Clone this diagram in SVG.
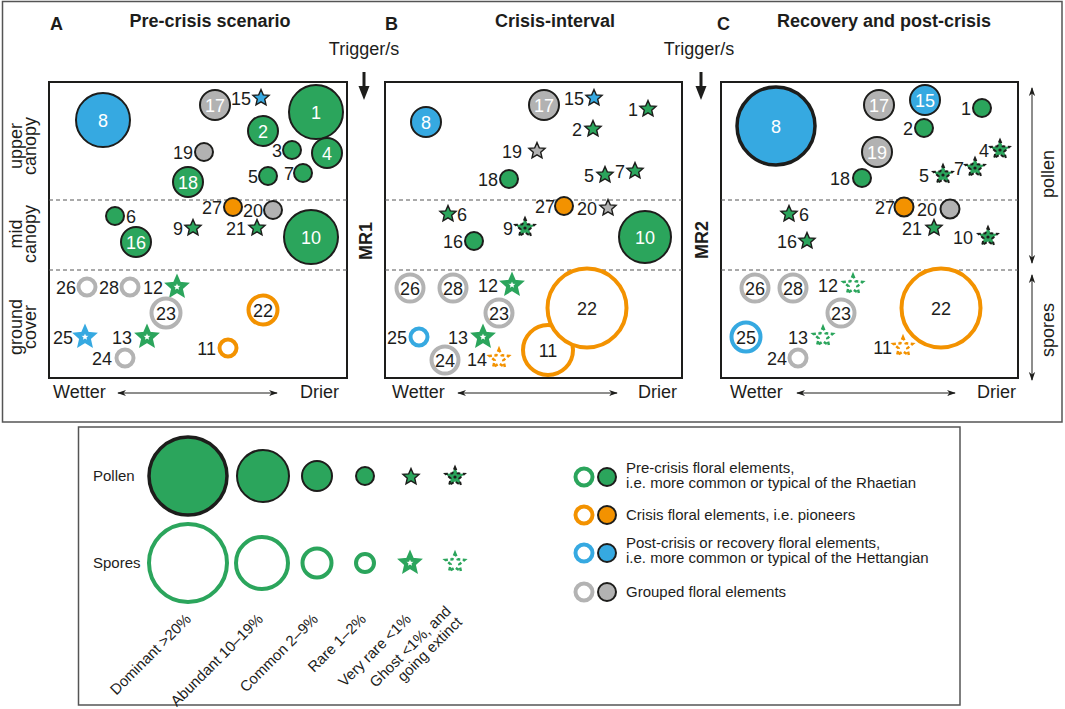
<svg xmlns="http://www.w3.org/2000/svg" xmlns:xlink="http://www.w3.org/1999/xlink" width="1065" height="709" viewBox="0 0 1065 709">
<style>
text{font-family:"Liberation Sans",Arial,sans-serif;font-size:18px;fill:#1d1d1b}
.bd{font-weight:bold}
.c{text-anchor:middle}
.e{text-anchor:end}
.w{fill:#fff}
.lg{font-size:15px}
.frame{fill:none;stroke:#555;stroke-width:1.5}
.box{fill:none;stroke:#1d1d1b;stroke-width:2}
.dash{stroke:#555;stroke-width:1;stroke-dasharray:4 3}
.f{stroke:#1d1d1b;stroke-width:2}
.G{fill:#2ba55c}.B{fill:#36a9e1}.O{fill:#f39200}.Y{fill:#b2b2b2}
.r{fill:#fff;stroke-width:4}
.rG{stroke:#2ba55c}.rB{stroke:#36a9e1}.rO{stroke:#f39200}.rY{stroke:#b3b3b3}
.ax{stroke:#1d1d1b;stroke-width:1;fill:none;marker-start:url(#ah);marker-end:url(#ah)}
</style>
<defs>
<marker id="ah" viewBox="0 0 10 10" refX="9" refY="5" markerWidth="9" markerHeight="9" markerUnits="userSpaceOnUse" orient="auto-start-reverse"><path d="M0,1.5 L10,5 L0,8.5 L3,5 z" fill="#1d1d1b"/></marker>
<polygon id="ps" points="0,-8.5 2.29,-3.16 8.08,-2.63 3.71,1.21 5,6.88 0,3.9 -5,6.88 -3.71,1.21 -8.08,-2.63 -2.29,-3.16" fill="currentColor" stroke="#1d1d1b" stroke-width="1.4" stroke-linejoin="miter"/>
<g id="pg">
<polygon points="0,-10 2.65,-3.64 9.51,-3.09 4.28,1.39 5.88,8.09 0,4.5 -5.88,8.09 -4.28,1.39 -9.51,-3.09 -2.65,-3.64" fill="currentColor" stroke="#1d1d1b" stroke-width="2" stroke-dasharray="3.5 2.5"/>
<circle r="1.6" fill="#1d1d1b"/>
</g>
<polygon id="ss" points="0,-8.5 2.29,-3.16 8.08,-2.63 3.71,1.21 5,6.88 0,3.9 -5,6.88 -3.71,1.21 -8.08,-2.63 -2.29,-3.16" fill="#fff" stroke="currentColor" stroke-width="4" stroke-linejoin="miter"/>
<polygon id="sg" points="0,-10 2.65,-3.64 9.51,-3.09 4.28,1.39 5.88,8.09 0,4.5 -5.88,8.09 -4.28,1.39 -9.51,-3.09 -2.65,-3.64" fill="none" stroke="currentColor" stroke-width="2.5" stroke-dasharray="3.5 2.5"/>
</defs>
<rect width="1065" height="709" fill="#fff"/>

<g id="frames">
<rect class="frame" x="2.5" y="1.5" width="1059.5" height="420.5"/>
<rect class="frame" x="78.5" y="427" width="881.5" height="278"/>
<rect class="box" x="49" y="82" width="298" height="296"/>
<rect class="box" x="385" y="82" width="297" height="296"/>
<rect class="box" x="721" y="82" width="297" height="296"/>
<line class="dash" x1="49" y1="200" x2="347" y2="200"/><line class="dash" x1="49" y1="270" x2="347" y2="270"/>
<line class="dash" x1="385" y1="200" x2="682" y2="200"/><line class="dash" x1="385" y1="270" x2="682" y2="270"/>
<line class="dash" x1="721" y1="200" x2="1018" y2="200"/><line class="dash" x1="721" y1="270" x2="1018" y2="270"/>
</g>

<g id="titles">
<text class="bd" x="50" y="30">A</text>
<text class="bd c" x="210" y="27">Pre-crisis scenario</text>
<text class="bd" x="385" y="30">B</text>
<text class="bd c" x="555" y="27">Crisis-interval</text>
<text class="bd" x="717" y="30">C</text>
<text class="bd c" x="884" y="27">Recovery and post-crisis</text>
<text class="c" x="364" y="55">Trigger/s</text>
<text class="c" x="699" y="55">Trigger/s</text>
<text class="bd c" transform="translate(372,241) rotate(-90)">MR1</text>
<text class="bd c" transform="translate(708,240) rotate(-90)">MR2</text>
<g transform="translate(22,146) rotate(-90)"><text class="c" x="0" y="0">upper</text><text class="c" x="0" y="14">canopy</text></g>
<g transform="translate(22,234) rotate(-90)"><text class="c" x="0" y="0">mid</text><text class="c" x="0" y="14">canopy</text></g>
<g transform="translate(22,327) rotate(-90)"><text class="c" x="0" y="0">ground</text><text class="c" x="0" y="14">cover</text></g>
<text class="c" transform="translate(1054,174) rotate(-90)">pollen</text>
<text class="c" transform="translate(1054,330) rotate(-90)">spores</text>
<text x="53" y="398">Wetter</text><text x="300" y="398">Drier</text>
<text x="392" y="398">Wetter</text><text x="638" y="398">Drier</text>
<text x="730" y="398">Wetter</text><text x="977" y="398">Drier</text>
</g>

<g id="connectors">
<line x1="364" y1="72" x2="364" y2="88" stroke="#1d1d1b" stroke-width="3"/><polygon points="358.5,86 369.5,86 364,100" fill="#1d1d1b"/>
<line x1="701" y1="72" x2="701" y2="88" stroke="#1d1d1b" stroke-width="3"/><polygon points="695.5,86 706.5,86 701,100" fill="#1d1d1b"/>
<line class="ax" x1="118" y1="393" x2="277" y2="393"/>
<line class="ax" x1="458" y1="393" x2="617" y2="393"/>
<line class="ax" x1="797" y1="393" x2="955" y2="393"/>
<line class="ax" x1="1032" y1="88" x2="1032" y2="263"/>
<line class="ax" x1="1032" y1="275" x2="1032" y2="380"/>
</g>

<g id="panelA">
<g id="a8"><circle class="f B" cx="103" cy="120" r="27"/><text class="c w" x="103" y="126.5">8</text></g>
<g id="a17"><circle class="f Y" cx="215" cy="105" r="15"/><text class="c w" x="215" y="111.5">17</text></g>
<g id="a15"><text class="e" x="251" y="104.5">15</text><use href="#ps" x="261" y="98" color="#36a9e1"/></g>
<g id="a1"><circle class="f G" cx="316" cy="112" r="27"/><text class="c w" x="316" y="118.5">1</text></g>
<g id="a2"><circle class="f G" cx="263" cy="131" r="15"/><text class="c w" x="263" y="137.5">2</text></g>
<g id="a19"><text class="e" x="193" y="158.5">19</text><circle class="f Y" cx="204" cy="152" r="9"/></g>
<g id="a3"><text class="e" x="282" y="156.5">3</text><circle class="f G" cx="292" cy="150" r="9"/></g>
<g id="a4"><circle class="f G" cx="327" cy="153" r="15"/><text class="c w" x="327" y="159.5">4</text></g>
<g id="a18"><circle class="f G" cx="188" cy="182" r="15"/><text class="c w" x="188" y="188.5">18</text></g>
<g id="a5"><text class="e" x="258" y="182.5">5</text><circle class="f G" cx="268" cy="176" r="9"/></g>
<g id="a7"><text class="e" x="294" y="179.5">7</text><circle class="f G" cx="303" cy="173" r="9"/></g>
<g id="a27"><text class="e" x="222" y="213.5">27</text><circle class="f O" cx="233" cy="207" r="9"/></g>
<g id="a20"><text class="e" x="263" y="216.5">20</text><circle class="f Y" cx="273" cy="210" r="9"/></g>
<g id="a6"><circle class="f G" cx="115" cy="216" r="9"/><text x="126" y="222.5">6</text></g>
<g id="a9"><text class="e" x="183" y="234.5">9</text><use href="#ps" x="193" y="228" color="#2ba55c"/></g>
<g id="a21"><text class="e" x="246" y="234.5">21</text><use href="#ps" x="257" y="228" color="#2ba55c"/></g>
<g id="a16"><circle class="f G" cx="136" cy="242" r="15"/><text class="c w" x="136" y="248.5">16</text></g>
<g id="a10"><circle class="f G" cx="311" cy="237" r="27"/><text class="c w" x="311" y="243.5">10</text></g>
<g id="a26"><text class="e" x="76" y="293.5">26</text><circle class="r rY" cx="87" cy="287" r="8.5"/></g>
<g id="a28"><text class="e" x="119" y="293.5">28</text><circle class="r rY" cx="130" cy="287" r="8.5"/></g>
<g id="a12"><text class="e" x="163" y="293.5">12</text><use href="#ss" x="177" y="287" color="#2ba55c"/></g>
<g id="a23"><circle class="r rY" cx="166" cy="313" r="14.5"/><text class="c" x="166" y="319.5">23</text></g>
<g id="a22"><circle class="r rO" cx="263" cy="310" r="14.5"/><text class="c" x="263" y="316.5">22</text></g>
<g id="a25"><text class="e" x="73" y="343.5">25</text><use href="#ss" x="85" y="337" color="#36a9e1"/></g>
<g id="a13"><text class="e" x="132" y="343.5">13</text><use href="#ss" x="147" y="337" color="#2ba55c"/></g>
<g id="a11"><text class="e" x="216" y="354.5">11</text><circle class="r rO" cx="228" cy="348" r="8.5"/></g>
<g id="a24"><text class="e" x="112" y="364.5">24</text><circle class="r rY" cx="125" cy="358" r="8.5"/></g>
</g>

<g id="panelB">
<g id="b8"><circle class="f B" cx="426" cy="122" r="15"/><text class="c w" x="426" y="128.5">8</text></g>
<g id="b17"><circle class="f Y" cx="544" cy="105" r="15"/><text class="c w" x="544" y="111.5">17</text></g>
<g id="b15"><text class="e" x="584" y="104.5">15</text><use href="#ps" x="594" y="98" color="#36a9e1"/></g>
<g id="b1"><text class="e" x="638" y="115.5">1</text><use href="#ps" x="648" y="109" color="#2ba55c"/></g>
<g id="b2"><text class="e" x="582" y="135.5">2</text><use href="#ps" x="593" y="129" color="#2ba55c"/></g>
<g id="b19"><text class="e" x="522" y="157.5">19</text><use href="#ps" x="537" y="151" color="#b2b2b2"/></g>
<g id="b18"><text class="e" x="498" y="185.5">18</text><circle class="f G" cx="509" cy="179" r="9"/></g>
<g id="b5"><text class="e" x="594" y="181.5">5</text><use href="#ps" x="605" y="175" color="#2ba55c"/></g>
<g id="b7"><text class="e" x="625" y="177.5">7</text><use href="#ps" x="635" y="171" color="#2ba55c"/></g>
<g id="b6"><use href="#ps" x="448" y="214" color="#2ba55c"/><text x="457" y="220.5">6</text></g>
<g id="b27"><text class="e" x="555" y="212.5">27</text><circle class="f O" cx="564" cy="206" r="9"/></g>
<g id="b20"><text class="e" x="597" y="214.5">20</text><use href="#ps" x="608" y="208" color="#b2b2b2"/></g>
<g id="b9"><text class="e" x="513" y="234.5">9</text><use href="#pg" x="525" y="228" color="#2ba55c"/></g>
<g id="b16"><text class="e" x="463" y="247.5">16</text><circle class="f G" cx="474" cy="241" r="9"/></g>
<g id="b10"><circle class="f G" cx="645" cy="237" r="26"/><text class="c w" x="645" y="243.5">10</text></g>
<g id="b26"><circle class="r rY" cx="410" cy="288" r="13.5" stroke-width="4.5"/><text class="c" x="410" y="294.5">26</text></g>
<g id="b28"><circle class="r rY" cx="453" cy="288" r="13.5" stroke-width="4.5"/><text class="c" x="453" y="294.5">28</text></g>
<g id="b12"><text class="e" x="498" y="291.5">12</text><use href="#ss" x="512" y="285" color="#2ba55c"/></g>
<g id="b23"><circle class="r rY" cx="499" cy="313" r="13.5" stroke-width="4.5"/><text class="c" x="499" y="319.5">23</text></g>
<g id="b11"><circle class="r rO" cx="548" cy="350" r="25" stroke-width="4.5"/><text class="c" x="548" y="356.5">11</text></g>
<g id="b22"><circle class="r rO" cx="587" cy="308" r="39.5" stroke-width="6.5"/><text class="c" x="587" y="314.5">22</text></g>
<g id="b25"><text class="e" x="407" y="343.5">25</text><circle class="r rB" cx="419" cy="337" r="8.5"/></g>
<g id="b13"><text class="e" x="468" y="343.5">13</text><use href="#ss" x="483" y="337" color="#2ba55c"/></g>
<g id="b24"><circle class="r rY" cx="445" cy="360" r="13.5" stroke-width="4.5"/><text class="c" x="445" y="366.5">24</text></g>
<g id="b14"><text class="e" x="487" y="365.5">14</text><use href="#sg" x="499" y="359" color="#f39200"/></g>
</g>

<g id="panelC">
<g id="c8"><circle class="B" cx="776" cy="126" r="39" stroke="#1d1d1b" stroke-width="3.5"/><text class="c w" x="776" y="132.5">8</text></g>
<g id="c17"><circle class="f Y" cx="879" cy="105" r="15"/><text class="c w" x="879" y="111.5">17</text></g>
<g id="c15"><circle class="f B" cx="925" cy="100" r="15"/><text class="c w" x="925" y="106.5">15</text></g>
<g id="c1"><text class="e" x="971" y="114.5">1</text><circle class="f G" cx="982" cy="108" r="9"/></g>
<g id="c2"><text class="e" x="913" y="134.5">2</text><circle class="f G" cx="924" cy="128" r="9"/></g>
<g id="c19"><circle class="f Y" cx="877" cy="152" r="15"/><text class="c w" x="877" y="158.5">19</text></g>
<g id="c4"><text class="e" x="989" y="156.5">4</text><use href="#pg" x="1000" y="150" color="#2ba55c"/></g>
<g id="c18"><text class="e" x="850" y="184.5">18</text><circle class="f G" cx="862" cy="178" r="9"/></g>
<g id="c5"><text class="e" x="929" y="181.5">5</text><use href="#pg" x="943" y="175" color="#2ba55c"/></g>
<g id="c7"><text class="e" x="964" y="174.5">7</text><use href="#pg" x="975" y="168" color="#2ba55c"/></g>
<g id="c6"><use href="#ps" x="789" y="214" color="#2ba55c"/><text x="799" y="220.5">6</text></g>
<g id="c16"><text class="e" x="797" y="247.5">16</text><use href="#ps" x="807" y="241" color="#2ba55c"/></g>
<g id="c27"><text class="e" x="895" y="213.5">27</text><circle class="f O" cx="904" cy="207" r="9.5"/></g>
<g id="c20"><text class="e" x="937" y="215.5">20</text><circle class="f Y" cx="950" cy="209" r="9.5"/></g>
<g id="c21"><text class="e" x="922" y="234.5">21</text><use href="#ps" x="934" y="228" color="#2ba55c"/></g>
<g id="c10"><text class="e" x="973" y="243.5">10</text><use href="#pg" x="988" y="237" color="#2ba55c"/></g>
<g id="c26"><circle class="r rY" cx="755" cy="288" r="13.5" stroke-width="4.5"/><text class="c" x="755" y="294.5">26</text></g>
<g id="c28"><circle class="r rY" cx="793" cy="288" r="13.5" stroke-width="4.5"/><text class="c" x="793" y="294.5">28</text></g>
<g id="c12"><text class="e" x="838" y="291.5">12</text><use href="#sg" x="853" y="285" color="#2ba55c"/></g>
<g id="c23"><circle class="r rY" cx="841" cy="313" r="13.5" stroke-width="4.5"/><text class="c" x="841" y="319.5">23</text></g>
<g id="c22"><circle class="r rO" cx="941" cy="308" r="39.5" stroke-width="6.5"/><text class="c" x="941" y="314.5">22</text></g>
<g id="c25"><circle class="r rB" cx="746" cy="337" r="14.5" stroke-width="4.5"/><text class="c" x="746" y="343.5">25</text></g>
<g id="c13"><text class="e" x="808" y="343.5">13</text><use href="#sg" x="823" y="337" color="#2ba55c"/></g>
<g id="c11"><text class="e" x="892" y="353.5">11</text><use href="#sg" x="903" y="347" color="#f39200"/></g>
<g id="c24"><text class="e" x="787" y="364.5">24</text><circle class="r rY" cx="798" cy="358" r="8.5"/></g>
</g>

<g id="legend">
<text class="lg" x="93" y="481">Pollen</text>
<text class="lg" x="93" y="568">Spores</text>
<g id="lp1"><circle class="G" cx="188" cy="476" r="39" stroke="#1d1d1b" stroke-width="3.5"/></g>
<g id="lp2"><circle class="f G" cx="263" cy="476" r="26"/></g>
<g id="lp3"><circle class="f G" cx="317" cy="476" r="15"/></g>
<g id="lp4"><circle class="f G" cx="365" cy="476" r="9"/></g>
<g id="lp5"><use href="#ps" x="411" y="477" color="#2ba55c"/></g>
<g id="lp6"><use href="#pg" x="455" y="477" color="#2ba55c"/></g>
<g id="ls1"><circle class="r rG" cx="188" cy="563" r="39" stroke-width="3.5"/></g>
<g id="ls2"><circle class="r rG" cx="262" cy="563" r="26" stroke-width="3.3"/></g>
<g id="ls3"><circle class="r rG" cx="317" cy="563" r="14.5" stroke-width="3"/></g>
<g id="ls4"><circle class="r rG" cx="365" cy="563" r="9" stroke-width="3"/></g>
<g id="ls5"><use href="#ss" x="410" y="563" color="#2ba55c"/></g>
<g id="ls6"><use href="#sg" x="455" y="563" color="#2ba55c"/></g>
<text class="lg e" transform="translate(192,620) rotate(-45)">Dominant &gt;20%</text>
<text class="lg e" transform="translate(264,620) rotate(-45)">Abundant 10–19%</text>
<text class="lg e" transform="translate(319,620) rotate(-45)">Common 2–9%</text>
<text class="lg e" transform="translate(367,620) rotate(-45)">Rare 1–2%</text>
<text class="lg e" transform="translate(412,620) rotate(-45)">Very rare &lt;1%</text>
<text class="lg e" transform="translate(452,612) rotate(-45)">Ghost &lt;1%, and</text>
<text class="lg e" transform="translate(463,623) rotate(-45)">going extinct</text>
<g id="k1"><circle class="r rG" cx="584" cy="477" r="8.5" stroke-width="3.5"/><circle class="f G" cx="607" cy="477" r="9"/><text class="lg" x="626" y="473">Pre-crisis floral elements,</text><text class="lg" x="626" y="488">i.e. more common or typical of the Rhaetian</text></g>
<g id="k2"><circle class="r rO" cx="584" cy="515" r="8.5" stroke-width="3.5"/><circle class="f O" cx="607" cy="515" r="9"/><text class="lg" x="626" y="520">Crisis floral elements, i.e. pioneers</text></g>
<g id="k3"><circle class="r rB" cx="584" cy="553" r="8.5" stroke-width="3.5"/><circle class="f B" cx="607" cy="553" r="9"/><text class="lg" x="626" y="548">Post-crisis or recovery floral elements,</text><text class="lg" x="626" y="563">i.e. more common or typical of the Hettangian</text></g>
<g id="k4"><circle class="r rY" cx="584" cy="592" r="8.5" stroke-width="3.5"/><circle class="f Y" cx="607" cy="592" r="9"/><text class="lg" x="626" y="597">Grouped floral elements</text></g>
</g>
</svg>
